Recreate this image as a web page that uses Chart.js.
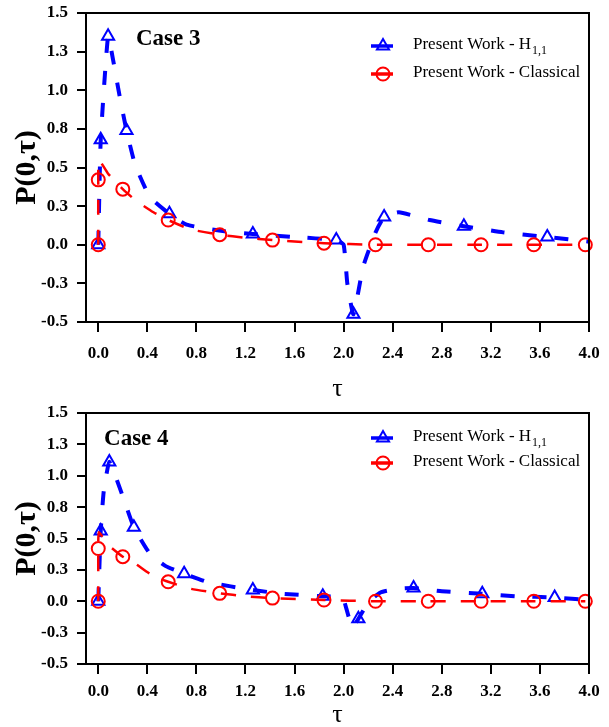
<!DOCTYPE html>
<html>
<head>
<meta charset="utf-8">
<script src="https://cdn.jsdelivr.net/npm/chart.js@4.4.1/dist/chart.umd.min.js"></script>
<style>
  body { margin: 0; background: #fff; }
  canvas { display: block; }
</style>
</head>
<body>
<canvas id="case3Chart" width="609" height="400"></canvas>
<canvas id="case4Chart" width="609" height="327"></canvas>
<script>
Chart.defaults.font.family = "'Liberation Serif', 'Times New Roman', serif";
Chart.defaults.color = "#000";

const h11Color = "#0000ff";
const classicalColor = "#ff0000";

// axis ticks
const xTicks = [0, 0.4, 0.8, 1.2, 1.6, 2.0, 2.4, 2.8, 3.2, 3.6, 4.0];
const xTickLabels = ["0.0", "0.4", "0.8", "1.2", "1.6", "2.0", "2.4", "2.8", "3.2", "3.6", "4.0"];
const yTicks = [-0.5, -0.25, 0, 0.25, 0.5, 0.75, 1.0, 1.25, 1.5];
const yTickLabels = ["-0.5", "-0.3", "0.0", "0.3", "0.5", "0.8", "1.0", "1.3", "1.5"];

// Case 3 - H1,1
const case3H11Tau = [0, 0.02, 0.08, 0.12, 0.17, 0.23, 0.3, 0.42, 0.58, 0.72, 1.0, 1.26, 1.6, 1.94, 2.0, 2.03, 2.08, 2.16, 2.26, 2.33, 2.45, 2.7, 2.98, 3.3, 3.66, 4.0];
const case3H11P = [0, 0.68, 1.35, 1.2, 0.98, 0.74, 0.52, 0.31, 0.2, 0.13, 0.09, 0.07, 0.05, 0.03, 0.0, -0.25, -0.45, -0.14, 0.08, 0.18, 0.21, 0.16, 0.12, 0.08, 0.05, 0.02];
const case3H11Marked = [0, 1, 2, 5, 8, 11, 13, 16, 19, 22, 24];
// Case 3 - Classical
const case3ClassicalTau = [0, 0, 0.005, 0.08, 0.2, 0.3, 0.45, 0.57, 0.75, 0.99, 1.2, 1.42, 1.84, 2.26, 2.69, 3.12, 3.55, 3.97];
const case3ClassicalP = [0, 0.42, 0.55, 0.46, 0.36, 0.29, 0.21, 0.16, 0.1, 0.065, 0.045, 0.03, 0.01, 0, 0, 0, 0, 0];
const case3ClassicalMarked = [0, 1, 4, 7, 9, 11, 12, 13, 14, 15, 16, 17];

// Case 4 - H1,1
const case4H11Tau = [0, 0.02, 0.045, 0.09, 0.15, 0.22, 0.29, 0.42, 0.55, 0.7, 0.9, 1.26, 1.5, 1.83, 1.99, 2.02, 2.07, 2.12, 2.2, 2.3, 2.45, 2.57, 2.8, 3.13, 3.4, 3.72, 4.0];
const case4H11P = [0, 0.56, 0.88, 1.11, 0.97, 0.78, 0.59, 0.38, 0.28, 0.22, 0.15, 0.09, 0.06, 0.04, 0.03, -0.05, -0.21, -0.14, -0.01, 0.07, 0.1, 0.105, 0.08, 0.06, 0.04, 0.03, 0.01];
const case4H11Marked = [0, 1, 3, 6, 9, 11, 13, 17, 21, 23, 25];
// Case 4 - Classical
const case4ClassicalTau = [0, 0, 0.005, 0.08, 0.2, 0.3, 0.45, 0.57, 0.75, 0.99, 1.2, 1.42, 1.84, 2.26, 2.69, 3.12, 3.55, 3.97];
const case4ClassicalP = [0, 0.42, 0.55, 0.45, 0.355, 0.3, 0.2, 0.155, 0.1, 0.063, 0.04, 0.025, 0.01, 0, 0, 0, 0, 0];
const case4ClassicalMarked = [0, 1, 4, 7, 9, 11, 12, 13, 14, 15, 16, 17];

function toPoints(xs, ys) {
  return xs.map((x, i) => ({ x: x, y: ys[i] }));
}

function drawMarker(ctx, style, x, y, r) {
  ctx.beginPath();
  if (style === "triangle") {
    let rad = 0;
    ctx.moveTo(x + Math.sin(rad) * r, y - Math.cos(rad) * r);
    rad += (2 * Math.PI) / 3;
    ctx.lineTo(x + Math.sin(rad) * r, y - Math.cos(rad) * r);
    rad += (2 * Math.PI) / 3;
    ctx.lineTo(x + Math.sin(rad) * r, y - Math.cos(rad) * r);
    ctx.closePath();
  } else {
    ctx.arc(x, y, r, 0, Math.PI * 2);
  }
  ctx.stroke();
}

// frame box, case label and legend (legend needs a subscript)
const decorPlugin = {
  id: "decor",
  afterDatasetsDraw(chart, args, opts) {
    const { ctx, chartArea: area, scales } = chart;
    ctx.save();
    ctx.setLineDash([]);
    ctx.strokeStyle = "#000";
    ctx.lineWidth = 2;
    ctx.strokeRect(area.left, area.top, area.right - area.left, area.bottom - area.top);

    ctx.fillStyle = "#000";
    ctx.font = "bold 23px 'Liberation Serif'";
    ctx.textAlign = "center";
    ctx.textBaseline = "middle";
    ctx.fillText(opts.caseText, scales.x.getPixelForValue(opts.caseAt[0]), scales.y.getPixelForValue(opts.caseAt[1]));

    opts.rows.forEach((row) => {
      const y = area.top + row.dy;
      const x0 = area.right - 218;
      ctx.strokeStyle = row.color;
      ctx.lineWidth = 3.5;
      ctx.beginPath();
      ctx.moveTo(x0, y);
      ctx.lineTo(x0 + 22, y);
      ctx.stroke();
      ctx.lineWidth = 2;
      drawMarker(ctx, row.style, x0 + 12, y, row.style === "triangle" ? 7 : 6.5);

      ctx.fillStyle = "#000";
      ctx.textAlign = "left";
      ctx.textBaseline = "middle";
      ctx.font = "17px 'Liberation Serif'";
      const tx = area.right - 176;
      ctx.fillText(row.text, tx, y - 1);
      if (row.sub) {
        const w = ctx.measureText(row.text).width;
        ctx.font = "12px 'Liberation Serif'";
        ctx.fillText(row.sub, tx + w + 1, y + 5);
      }
    });
    ctx.restore();
  },
};

function makeChart(canvasId, cfg) {
  const markedRadius = (marked, r) => (c) => (marked.includes(c.dataIndex) ? r : 0);
  return new Chart(document.getElementById(canvasId), {
    type: "line",
    data: {
      datasets: [
        {
          label: "Present Work - Classical",
          data: toPoints(cfg.classicalTau, cfg.classicalP),
          borderColor: classicalColor,
          borderWidth: 2.5,
          borderDash: [15, 15],
          pointStyle: "circle",
          pointRadius: markedRadius(cfg.classicalMarked, 6.5),
          pointBorderWidth: 2,
          pointBorderColor: classicalColor,
          pointBackgroundColor: "transparent",
          tension: 0.15,
          clip: false,
          order: 1,
        },
        {
          label: "Present Work - H1,1",
          data: toPoints(cfg.h11Tau, cfg.h11P),
          borderColor: h11Color,
          borderWidth: 4,
          borderDash: [14, 18],
          pointStyle: "triangle",
          pointRadius: markedRadius(cfg.h11Marked, 7),
          pointBorderWidth: 2,
          pointBorderColor: h11Color,
          pointBackgroundColor: "transparent",
          tension: 0.15,
          clip: false,
          order: 2,
        },
      ],
    },
    options: {
      responsive: false,
      animation: false,
      layout: { padding: { top: cfg.topPad, right: 20, left: 0, bottom: 0 } },
      scales: {
        x: {
          type: "linear",
          min: -0.1,
          max: 4.0,
          afterBuildTicks: (scale) => {
            scale.ticks = xTicks.map((v) => ({ value: v }));
          },
          afterFit: (scale) => {
            scale.height = cfg.xHeight;
            scale.paddingLeft = 0;
            scale.paddingRight = 0;
          },
          ticks: {
            callback: (v) => xTickLabels[xTicks.indexOf(v)],
            autoSkip: false,
            maxRotation: 0,
            padding: cfg.xLabelPad,
            color: "#000",
            font: { size: 17, weight: "bold" },
          },
          grid: { drawOnChartArea: false, tickLength: 10, color: "#000", lineWidth: 2 },
          border: { display: true, color: "#000", width: 2 },
          title: {
            display: true,
            text: "τ",
            color: "#000",
            font: { size: 26, lineHeight: 1 },
            padding: { top: 0, bottom: cfg.tauPad },
          },
        },
        y: {
          min: -0.5,
          max: 1.5,
          afterBuildTicks: (scale) => {
            scale.ticks = yTicks.map((v) => ({ value: v }));
          },
          afterFit: (scale) => {
            scale.width = 86;
            scale.paddingTop = 0;
            scale.paddingBottom = 0;
          },
          ticks: {
            callback: (v) => yTickLabels[yTicks.indexOf(v)],
            autoSkip: false,
            padding: 9,
            color: "#000",
            font: { size: 17, weight: "bold" },
          },
          grid: { drawOnChartArea: false, tickLength: 9, color: "#000", lineWidth: 2 },
          border: { display: true, color: "#000", width: 2 },
          title: {
            display: true,
            text: "P(0,τ)",
            color: "#000",
            font: { size: 30, weight: "bold" },
            padding: { top: 9, bottom: 0 },
          },
        },
      },
      plugins: {
        legend: { display: false },
        tooltip: { enabled: false },
        decor: {
          caseText: cfg.caseText,
          caseAt: cfg.caseAt,
          rows: [
            { color: h11Color, style: "triangle", text: "Present Work - H", sub: "1,1", dy: cfg.legendDy[0] },
            { color: classicalColor, style: "circle", text: "Present Work - Classical", dy: cfg.legendDy[1] },
          ],
        },
      },
    },
    plugins: [decorPlugin],
  });
}

const case3Chart = makeChart("case3Chart", {
  h11Tau: case3H11Tau,
  h11P: case3H11P,
  h11Marked: case3H11Marked,
  classicalTau: case3ClassicalTau,
  classicalP: case3ClassicalP,
  classicalMarked: case3ClassicalMarked,
  caseText: "Case 3",
  caseAt: [0.57, 1.33],
  legendDy: [33, 61],
  topPad: 13,
  xHeight: 78,
  xLabelPad: 11,
  tauPad: -2,
});

const case4Chart = makeChart("case4Chart", {
  h11Tau: case4H11Tau,
  h11P: case4H11P,
  h11Marked: case4H11Marked,
  classicalTau: case4ClassicalTau,
  classicalP: case4ClassicalP,
  classicalMarked: case4ClassicalMarked,
  caseText: "Case 4",
  caseAt: [0.31, 1.295],
  legendDy: [25, 50],
  topPad: 13,
  xHeight: 63,
  xLabelPad: 7,
  tauPad: -1,
});
</script>
</body>
</html>
